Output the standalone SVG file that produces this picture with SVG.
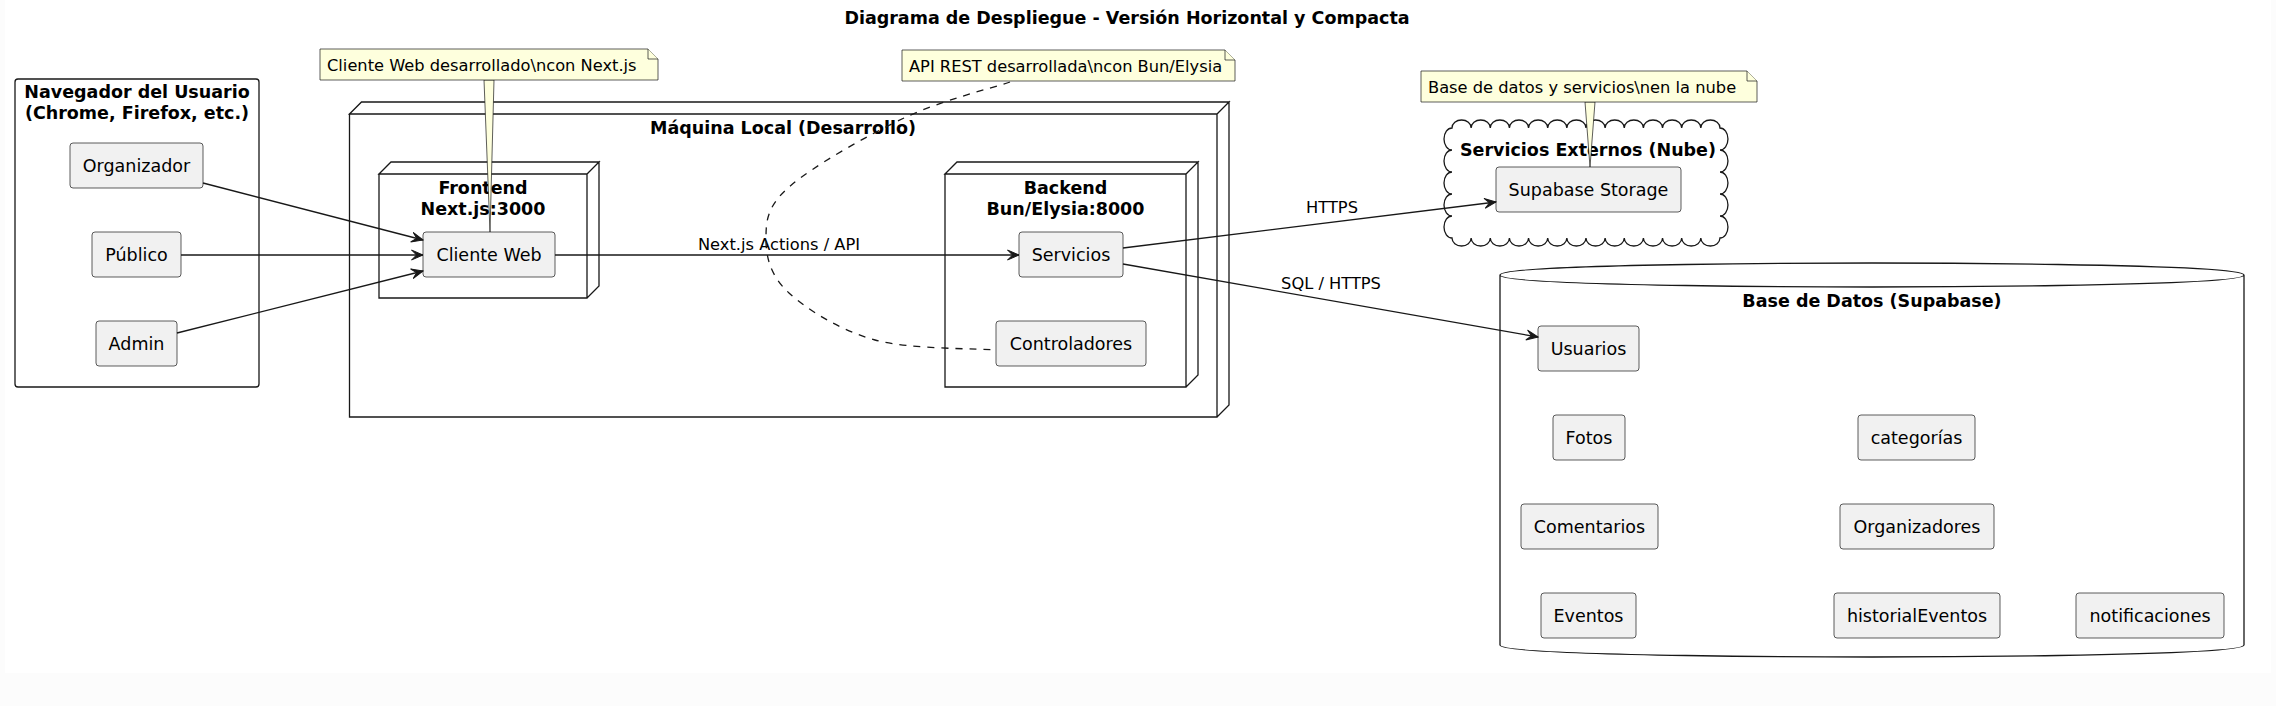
<svg xmlns="http://www.w3.org/2000/svg" width="2276" height="706" viewBox="0 0 2276 706">
<style>
.t{font-family:"DejaVu Sans","Liberation Sans",sans-serif;font-size:17.5px;fill:#000;text-anchor:middle}
.b{font-weight:bold}
.n{font-family:"DejaVu Sans","Liberation Sans",sans-serif;font-size:16.25px;fill:#000;text-anchor:start}
.l{font-family:"DejaVu Sans","Liberation Sans",sans-serif;font-size:16.25px;fill:#000;text-anchor:middle}
.box{fill:#F1F1F1;stroke:#181818;stroke-width:0.7}
.ct{fill:none;stroke:#181818;stroke-width:1.3}
.note{fill:#FEFFDD;stroke:#181818;stroke-width:0.7}
.cn{fill:none;stroke:#181818;stroke-width:1.3}
.dash{fill:none;stroke:#181818;stroke-width:1.3;stroke-dasharray:7,7}
</style>
<defs>
<marker id="arr" viewBox="-12 -6 13 12" refX="0" refY="0" markerWidth="13" markerHeight="12" markerUnits="userSpaceOnUse" orient="auto">
<path d="M0,0 L-11.5,-5 L-6.5,0 L-11.5,5 Z" fill="#181818" stroke="#181818" stroke-width="1"/>
</marker>
</defs>
<rect x="0" y="0" width="2276" height="706" fill="#FCFCFC"/>
<rect x="5" y="0" width="2266" height="673" fill="#FFFFFF"/>
<text class="t b" x="1127" y="24">Diagrama de Despliegue - Versión Horizontal y Compacta</text>

<g id="navegador">
<rect class="ct" x="15" y="79" width="244" height="308" rx="3"/>
<text class="t b" x="137" y="98">Navegador del Usuario</text>
<text class="t b" x="137" y="119">(Chrome, Firefox, etc.)</text>
</g>
<g id="organizador"><rect class="box" x="70" y="143" width="133" height="45" rx="3"/><text class="t" x="136.5" y="172">Organizador</text></g>
<g id="publico"><rect class="box" x="92" y="232" width="89" height="45" rx="3"/><text class="t" x="136.5" y="261">Público</text></g>
<g id="admin"><rect class="box" x="96" y="321" width="81" height="45" rx="3"/><text class="t" x="136.5" y="350">Admin</text></g>

<g id="maquina">
<path class="ct" d="M349.5,114 L361.5,102 L1229,102 L1217,114 Z M349.5,114 L1217,114 L1217,417 L349.5,417 Z M1217,114 L1229,102 L1229,405 L1217,417"/>
<text class="t b" x="783" y="134">Máquina Local (Desarrollo)</text>
</g>
<g id="frontend">
<path class="ct" d="M379,174 L391,162 L599,162 L587,174 Z M379,174 L587,174 L587,298 L379,298 Z M587,174 L599,162 L599,286 L587,298"/>
<text class="t b" x="483" y="194">Frontend</text>
<text class="t b" x="483" y="215">Next.js:3000</text>
</g>
<g id="cliente-web"><rect class="box" x="423" y="232" width="132" height="45" rx="3"/><text class="t" x="489" y="261">Cliente Web</text></g>
<g id="backend">
<path class="ct" d="M945,174 L957,162 L1198,162 L1186,174 Z M945,174 L1186,174 L1186,387 L945,387 Z M1186,174 L1198,162 L1198,375 L1186,387"/>
<text class="t b" x="1065.5" y="194">Backend</text>
<text class="t b" x="1065.5" y="215">Bun/Elysia:8000</text>
</g>
<g id="servicios"><rect class="box" x="1019" y="232" width="104" height="45" rx="3"/><text class="t" x="1071" y="261">Servicios</text></g>
<g id="controladores"><rect class="box" x="996" y="321" width="150" height="45" rx="3"/><text class="t" x="1071" y="350">Controladores</text></g>

<g id="nube">
<path class="ct" d="M1452,128 a9.57,8 0 0 1 19.14,0 a9.57,8 0 0 1 19.14,0 a9.57,8 0 0 1 19.14,0 a9.57,8 0 0 1 19.14,0 a9.57,8 0 0 1 19.14,0 a9.57,8 0 0 1 19.14,0 a9.57,8 0 0 1 19.14,0 a9.57,8 0 0 1 19.14,0 a9.57,8 0 0 1 19.14,0 a9.57,8 0 0 1 19.14,0 a9.57,8 0 0 1 19.14,0 a9.57,8 0 0 1 19.14,0 a9.57,8 0 0 1 19.14,0 a9.57,8 0 0 1 19.14,0 a8,11 0 0 1 0,22 a8,11 0 0 1 0,22 a8,11 0 0 1 0,22 a8,11 0 0 1 0,22 a8,11 0 0 1 0,22 a9.57,8 0 0 1 -19.14,0 a9.57,8 0 0 1 -19.14,0 a9.57,8 0 0 1 -19.14,0 a9.57,8 0 0 1 -19.14,0 a9.57,8 0 0 1 -19.14,0 a9.57,8 0 0 1 -19.14,0 a9.57,8 0 0 1 -19.14,0 a9.57,8 0 0 1 -19.14,0 a9.57,8 0 0 1 -19.14,0 a9.57,8 0 0 1 -19.14,0 a9.57,8 0 0 1 -19.14,0 a9.57,8 0 0 1 -19.14,0 a9.57,8 0 0 1 -19.14,0 a9.57,8 0 0 1 -19.14,0 a8,11 0 0 1 0,-22 a8,11 0 0 1 0,-22 a8,11 0 0 1 0,-22 a8,11 0 0 1 0,-22 a8,11 0 0 1 0,-22 Z"/>
<text class="t b" x="1588" y="156">Servicios Externos (Nube)</text>
</g>
<g id="supabase-storage"><rect class="box" x="1496" y="167" width="185" height="45" rx="3"/><text class="t" x="1588.5" y="196">Supabase Storage</text></g>

<g id="base-datos">
<path class="ct" d="M1500,275 C1500,263 1872,263 1872,263 C1872,263 2244,263 2244,275 L2244,645 C2244,657 1872,657 1872,657 C1872,657 1500,657 1500,645 Z M1500,275 C1500,287 1872,287 1872,287 C1872,287 2244,287 2244,275"/>
<text class="t b" x="1872" y="307">Base de Datos (Supabase)</text>
</g>
<g id="usuarios"><rect class="box" x="1538" y="326" width="101" height="45" rx="3"/><text class="t" x="1588.5" y="355">Usuarios</text></g>
<g id="fotos"><rect class="box" x="1553" y="415" width="72" height="45" rx="3"/><text class="t" x="1589" y="444">Fotos</text></g>
<g id="comentarios"><rect class="box" x="1521" y="504" width="137" height="45" rx="3"/><text class="t" x="1589.5" y="533">Comentarios</text></g>
<g id="eventos"><rect class="box" x="1541" y="593" width="95" height="45" rx="3"/><text class="t" x="1588.5" y="622">Eventos</text></g>
<g id="categorias"><rect class="box" x="1858" y="415" width="117" height="45" rx="3"/><text class="t" x="1916.5" y="444">categorías</text></g>
<g id="organizadores"><rect class="box" x="1840" y="504" width="154" height="45" rx="3"/><text class="t" x="1917" y="533">Organizadores</text></g>
<g id="historial-eventos"><rect class="box" x="1834" y="593" width="166" height="45" rx="3"/><text class="t" x="1917" y="622">historialEventos</text></g>
<g id="notificaciones"><rect class="box" x="2076" y="593" width="148" height="45" rx="3"/><text class="t" x="2150" y="622">notificaciones</text></g>

<g id="connectors">
<line class="cn" x1="203" y1="183" x2="423" y2="240" marker-end="url(#arr)"/>
<line class="cn" x1="181" y1="255" x2="423" y2="255" marker-end="url(#arr)"/>
<line class="cn" x1="177" y1="333" x2="423" y2="271" marker-end="url(#arr)"/>
<line class="cn" x1="555" y1="255" x2="1019" y2="255" marker-end="url(#arr)"/>
<text class="l" x="779" y="250">Next.js Actions / API</text>
<line class="cn" x1="1123" y1="248" x2="1496" y2="202" marker-end="url(#arr)"/>
<text class="l" x="1332" y="213">HTTPS</text>
<line class="cn" x1="1123" y1="264" x2="1538" y2="337" marker-end="url(#arr)"/>
<text class="l" x="1331" y="289">SQL / HTTPS</text>
<path class="dash" d="M1010,82 C992.3,88 940.8,100.5 904,118 C867.2,135.5 812,166.7 789,187 C766,207.3 766,222.3 766,240 C766,257.7 770.8,276.3 789,293 C807.2,309.7 840.5,330.5 875,340 C909.5,349.5 975.8,348.3 996,350"/>
</g>

<g id="nota-cliente">
<polygon class="note" points="484,80 494,80 490,232"/>
<path class="note" d="M320,49 L648,49 L658,59 L658,80 L320,80 Z"/>
<path class="note" d="M648,49 L648,59 L658,59"/>
<text class="n" x="327" y="71">Cliente Web desarrollado\ncon Next.js</text>
</g>
<g id="nota-api">
<path class="note" d="M902,50 L1225,50 L1235,60 L1235,81 L902,81 Z"/>
<path class="note" d="M1225,50 L1225,60 L1235,60"/>
<text class="n" x="909" y="72">API REST desarrollada\ncon Bun/Elysia</text>
</g>
<g id="nota-nube">
<polygon class="note" points="1585,102 1595,102 1590,167"/>
<path class="note" d="M1421,71 L1747,71 L1757,81 L1757,102 L1421,102 Z"/>
<path class="note" d="M1747,71 L1747,81 L1757,81"/>
<text class="n" x="1428" y="93">Base de datos y servicios\nen la nube</text>
</g>
</svg>
